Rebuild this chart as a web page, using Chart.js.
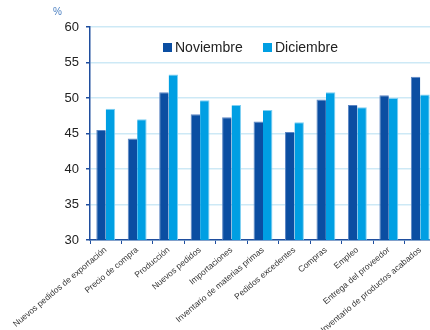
<!DOCTYPE html>
<html>
<head>
<meta charset="utf-8">
<script src="https://cdn.jsdelivr.net/npm/chart.js@4.4.1/dist/chart.umd.min.js"></script>
<style>
html,body{margin:0;padding:0;background:#fff;overflow:hidden;}
#wrap{position:relative;width:436px;height:330px;}
#unit{position:absolute;left:53px;top:6px;font:10px "Liberation Sans",Arial,sans-serif;color:#4a7fc1;}
.leg{position:absolute;top:39px;font:14px "Liberation Sans",Arial,sans-serif;color:#222;white-space:nowrap;}
.leg span{display:inline-block;width:9px;height:9px;margin-right:3px;vertical-align:0px;}
</style>
</head>
<body>
<div id="wrap">
<canvas id="c" width="436" height="330"></canvas>
<div id="unit">%</div>
<div class="leg" id="l1" style="left:163px"><span style="background:#0b4ea2"></span>Noviembre</div>
<div class="leg" id="l2" style="left:263px"><span style="background:#009fe3"></span>Diciembre</div>
</div>
<script>
const categories = ["Nuevos pedidos de exportación","Precio de compra","Producción","Nuevos pedidos","Importaciones","Inventario de materias primas","Pedidos excedentes","Compras","Empleo","Entrega del proveedor","Inventario de productos acabados"];
const noviembre = [45.5, 44.3, 50.8, 47.7, 47.3, 46.7, 45.2, 49.8, 49.0, 50.4, 53.0];
const diciembre = [48.5, 47.0, 53.3, 49.7, 49.0, 48.3, 46.6, 50.8, 48.7, 50.0, 50.5];
const yTicks = [30, 35, 40, 45, 50, 55, 60];

new Chart(document.getElementById('c'), {
  type: 'bar',
  data: {
    labels: categories,
    datasets: [
      {label: 'Noviembre', data: noviembre, backgroundColor: '#0b4ea2', borderColor:'#5c86c4', borderWidth:{top:1,left:1,right:0,bottom:0}, barPercentage: 1, categoryPercentage: 0.6},
      {label: 'Diciembre', data: diciembre, backgroundColor: '#009fe3', borderColor:'#7fd0f2', borderWidth:{top:1,left:0,right:1,bottom:0}, barPercentage: 1, categoryPercentage: 0.6}
    ]
  },
  options: {
    responsive: false,
    animation: false,
    layout: {padding: {top: 27, right: 0, bottom: 0, left: 0}},
    plugins: {legend: {display: false}, tooltip: {enabled: false}},
    scales: {
      x: {
        grid: {drawOnChartArea: false, drawTicks: true, tickLength: 4, color: '#1f4e9e', offset: true},
        border: {color: '#1f4e9e', width: 1.5},
        ticks: {minRotation: 40, maxRotation: 40, autoSkip: false, padding: 1, color: '#333', font: {family: '"Liberation Sans", Arial, sans-serif', size: 8.5}},
        afterFit: s => { s.height = 90; }
      },
      y: {
        min: 30, max: 60,
        afterBuildTicks: s => { s.ticks = yTicks.map(v => ({value: v})); },
        grid: {color: '#cde9f6', lineWidth: 1.5, tickLength: 4, tickColor: '#1f4e9e'},
        border: {color: '#1f4e9e', width: 1.5},
        ticks: {color: '#222', padding: 7, font: {family: '"Liberation Sans", Arial, sans-serif', size: 13}},
        afterFit: s => { s.width = 90; }
      }
    }
  }
});
</script>
</body>
</html>
